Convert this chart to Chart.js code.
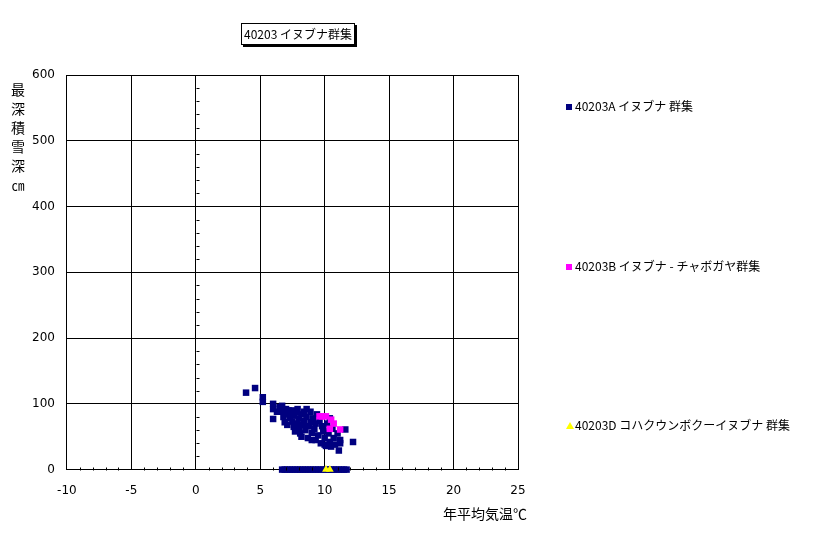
<!DOCTYPE html>
<html>
<head>
<meta charset="utf-8">
<script src="https://cdn.jsdelivr.net/npm/chart.js@4.4.1/dist/chart.umd.min.js"></script>
<style>
  body { margin: 0; background: #fff; }
  #wrap { position: relative; width: 816px; height: 534px; font-family: "Noto Sans CJK JP", sans-serif; }
  #title { position: absolute; left: 241px; top: 23px; width: 112px; height: 20px; border: 1px solid #000;
           box-shadow: 2px 2px 0 #000; background: #fff; font-size: 12px; line-height: 20px; text-align: center; }
  #ylab { position: absolute; left: 10px; top: 80px; width: 16px; font-size: 14px; line-height: 19px; text-align: center; }
  #xlab { position: absolute; left: 443px; top: 503px; font-size: 14px; }
  .leg { position: absolute; left: 566px; font-size: 12px; line-height: 16px; white-space: nowrap; }
  .leg i { display: inline-block; width: 6px; height: 6px; margin-right: 3px; vertical-align: 1px; }
  .leg i.tri { width: 0; height: 0; border-left: 4px solid transparent; border-right: 4px solid transparent;
               border-bottom: 7px solid #ffff00; margin-right: 1px; }
</style>
</head>
<body>
<div id="wrap">
  <canvas id="snow" width="816" height="534"></canvas>
  <div id="title">40203 イヌブナ群集</div>
  <div id="ylab">最<br>深<br>積<br>雪<br>深<br><span style="font-size:13px">㎝</span></div>
  <div id="xlab">年平均気温℃</div>
  <div class="leg" id="leg0" style="top:98px"></div>
  <div class="leg" id="leg1" style="top:258px"></div>
  <div class="leg" id="leg2" style="top:417px"></div>
</div>
<script>
// 系列名
const seriesNames = ["40203A イヌブナ 群集", "40203B イヌブナ - チャボガヤ群集", "40203D コハクウンボクーイヌブナ 群集"];

// 40203A [年平均気温, 最深積雪深]
const groupA = [
  [3.9, 117], [4.6, 124], [5.2, 110], [5.2, 103], [6.0, 100], [6.0, 92], [6.0, 77], [6.3, 88],
  [6.5, 95], [6.7, 97], [6.7, 88], [6.8, 80], [6.9, 72], [7.0, 92], [7.0, 84], [7.1, 68],
  [7.2, 90], [7.3, 78], [7.4, 86], [7.5, 73], [7.6, 65], [7.6, 82], [7.7, 58], [7.8, 88],
  [7.9, 92], [7.9, 70], [8.0, 62], [8.0, 78], [8.1, 55], [8.2, 84], [8.3, 68], [8.4, 74],
  [8.5, 60], [8.6, 92], [8.6, 80], [8.7, 48], [8.8, 66], [8.9, 88], [8.9, 72], [9.0, 56],
  [9.1, 78], [9.2, 62], [9.3, 45], [9.3, 70], [9.4, 84], [9.5, 52], [9.6, 74], [9.7, 40],
  [9.8, 66], [9.9, 58], [10.0, 48], [10.1, 36], [10.2, 70], [10.3, 55], [10.4, 42], [10.5, 35],
  [10.6, 62], [10.7, 48], [10.8, 38], [11.0, 55], [11.1, 29], [11.2, 45], [11.2, 40], [11.6, 61],
  [12.2, 42], [9.9, 61], [10.4, 78], [8.4, 88], [7.5, 90], [9.0, 45], [10.0, 38], [8.2, 50],
  [6.7, 0], [6.9, 0], [7.1, 0], [7.3, 0], [7.5, 0], [7.7, 0], [7.9, 0], [8.1, 0], [8.3, 0],
  [8.5, 0], [8.7, 0], [8.9, 0], [9.1, 0], [9.3, 0], [9.5, 0], [9.7, 0], [9.9, 0], [10.1, 0],
  [10.3, 0], [10.5, 0], [10.7, 0], [10.9, 0], [11.1, 0], [11.3, 0], [11.5, 0], [11.7, 0]
];
// 40203B
const groupB = [[9.6, 81], [9.8, 81], [10.1, 81], [10.5, 76], [10.7, 70], [11.2, 61], [10.4, 62]];
// 40203D
const groupD = [[10.1, 0], [10.4, 0]];

const xTicks = [-10, -5, 0, 5, 10, 15, 20, 25];
const yTicks = [0, 100, 200, 300, 400, 500, 600];

const toPts = arr => arr.map(p => ({ x: p[0], y: p[1] }));

// 0 の位置の軸と補助目盛
const zeroAxes = {
  id: "zeroAxes",
  afterDatasetsDraw(chart) {
    const { ctx, scales: { x, y } } = chart;
    const x0 = Math.round(x.getPixelForValue(0)) + 0.5;
    const y0 = Math.round(y.getPixelForValue(0)) + 0.5;
    ctx.save();
    ctx.strokeStyle = "#000";
    ctx.lineWidth = 1;
    ctx.beginPath();
    for (let v = 20; v < 600; v += 20) {
      if (v % 100 === 0) continue;
      const py = Math.round(y.getPixelForValue(v)) + 0.5;
      ctx.moveTo(x0, py); ctx.lineTo(x0 + 3, py);
    }
    for (let v = -9; v < 25; v++) {
      if (v % 5 === 0) continue;
      const px = Math.round(x.getPixelForValue(v)) + 0.5;
      ctx.moveTo(px, y0); ctx.lineTo(px, y0 - 3);
    }
    ctx.stroke();
    ctx.restore();
  }
};

new Chart(document.getElementById("snow"), {
  type: "scatter",
  data: {
    datasets: [
      { label: seriesNames[0], data: toPts(groupA), pointStyle: "rect", pointRadius: 4.6, pointHoverRadius: 4.6,
        backgroundColor: "#000080", borderWidth: 0, clip: false, order: 3 },
      { label: seriesNames[1], data: toPts(groupB), pointStyle: "rect", pointRadius: 4.6, pointHoverRadius: 4.6,
        backgroundColor: "#ff00ff", borderWidth: 0, clip: false, order: 2 },
      { label: seriesNames[2], data: toPts(groupD), pointStyle: "triangle", pointRadius: 4.5, pointHoverRadius: 4.5,
        backgroundColor: "#ffff00", borderWidth: 0, clip: false, order: 1 }
    ]
  },
  options: {
    responsive: false,
    animation: false,
    layout: { padding: { left: 20, right: 298, top: 75, bottom: 22 } },
    plugins: { legend: { display: false }, tooltip: { enabled: false } },
    scales: {
      x: {
        type: "linear", min: -10, max: 25,
        afterBuildTicks: s => { s.ticks = xTicks.map(v => ({ value: v })); },
        grid: { color: "#000", drawTicks: false },
        border: { color: "#000" },
        ticks: { color: "#000", padding: 14, maxRotation: 0, font: { family: "DejaVu Sans", size: 12 } }
      },
      y: {
        type: "linear", min: 0, max: 600,
        afterBuildTicks: s => { s.ticks = yTicks.map(v => ({ value: v })); },
        grid: { color: "#000", drawTicks: false },
        border: { color: "#000" },
        ticks: { color: "#000", padding: 12, font: { family: "DejaVu Sans", size: 12 } }
      }
    }
  },
  plugins: [zeroAxes]
});

// 凡例
const legendMarks = ['<i style="background:#000080"></i>', '<i style="background:#ff00ff"></i>', '<i class="tri"></i>'];
seriesNames.forEach((n, i) => {
  document.getElementById("leg" + i).innerHTML = legendMarks[i] + n;
});
</script>
</body>
</html>
